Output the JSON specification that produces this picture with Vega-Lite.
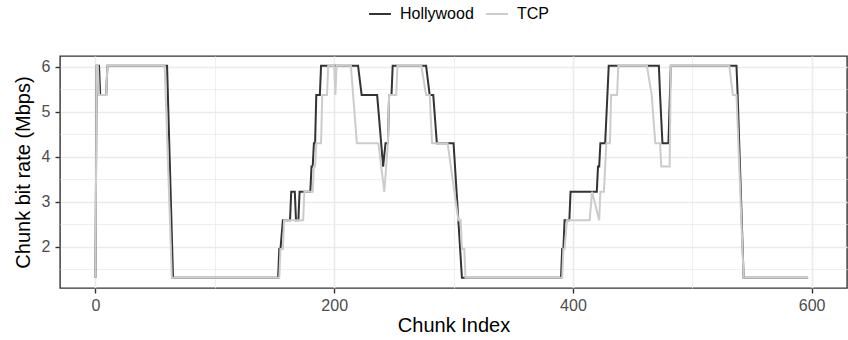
{
  "$schema": "https://vega.github.io/schema/vega-lite/v6.json",
  "width": 787,
  "height": 232,
  "autosize": {"type": "none"},
  "padding": {"left": 60, "top": 56, "right": 1, "bottom": 52},
  "background": "white",
  "config": {
    "font": "Liberation Sans",
    "view": {"stroke": "#333333", "strokeWidth": 1.4},
    "axis": {
      "domain": false,
      "gridColor": "#EBEBEB",
      "tickColor": "#333333",
      "tickWidth": 1.4,
      "tickSize": 5,
      "labelColor": "#4D4D4D",
      "labelFontSize": 16,
      "labelFont": "Liberation Sans",
      "titleFont": "Liberation Sans",
      "titleFontSize": 20,
      "titleFontWeight": "normal",
      "titleColor": "#000000"
    }
  },
  "data": {
    "values": [
      {"s": "Hollywood", "i": 0, "v": 1.31},
      {"s": "Hollywood", "i": 1, "v": 6.02},
      {"s": "Hollywood", "i": 3, "v": 6.02},
      {"s": "Hollywood", "i": 4, "v": 5.37},
      {"s": "Hollywood", "i": 9, "v": 5.37},
      {"s": "Hollywood", "i": 10, "v": 6.02},
      {"s": "Hollywood", "i": 60, "v": 6.02},
      {"s": "Hollywood", "i": 65, "v": 1.31},
      {"s": "Hollywood", "i": 153, "v": 1.31},
      {"s": "Hollywood", "i": 154, "v": 1.95},
      {"s": "Hollywood", "i": 155, "v": 1.95},
      {"s": "Hollywood", "i": 157, "v": 2.59},
      {"s": "Hollywood", "i": 163, "v": 2.59},
      {"s": "Hollywood", "i": 164, "v": 3.22},
      {"s": "Hollywood", "i": 167, "v": 3.22},
      {"s": "Hollywood", "i": 168, "v": 2.59},
      {"s": "Hollywood", "i": 170, "v": 2.59},
      {"s": "Hollywood", "i": 171, "v": 3.22},
      {"s": "Hollywood", "i": 180, "v": 3.22},
      {"s": "Hollywood", "i": 181, "v": 3.78},
      {"s": "Hollywood", "i": 182, "v": 3.78},
      {"s": "Hollywood", "i": 183, "v": 4.30},
      {"s": "Hollywood", "i": 184, "v": 4.30},
      {"s": "Hollywood", "i": 185, "v": 5.37},
      {"s": "Hollywood", "i": 188, "v": 5.37},
      {"s": "Hollywood", "i": 189, "v": 6.02},
      {"s": "Hollywood", "i": 220, "v": 6.02},
      {"s": "Hollywood", "i": 223, "v": 5.37},
      {"s": "Hollywood", "i": 236, "v": 5.37},
      {"s": "Hollywood", "i": 241, "v": 3.78},
      {"s": "Hollywood", "i": 243, "v": 4.30},
      {"s": "Hollywood", "i": 245, "v": 4.30},
      {"s": "Hollywood", "i": 246, "v": 5.37},
      {"s": "Hollywood", "i": 248, "v": 5.37},
      {"s": "Hollywood", "i": 249, "v": 6.02},
      {"s": "Hollywood", "i": 277, "v": 6.02},
      {"s": "Hollywood", "i": 280, "v": 5.37},
      {"s": "Hollywood", "i": 283, "v": 5.37},
      {"s": "Hollywood", "i": 286, "v": 4.30},
      {"s": "Hollywood", "i": 300, "v": 4.30},
      {"s": "Hollywood", "i": 307, "v": 1.31},
      {"s": "Hollywood", "i": 390, "v": 1.31},
      {"s": "Hollywood", "i": 391, "v": 1.95},
      {"s": "Hollywood", "i": 392, "v": 1.95},
      {"s": "Hollywood", "i": 393, "v": 2.59},
      {"s": "Hollywood", "i": 397, "v": 2.59},
      {"s": "Hollywood", "i": 398, "v": 3.22},
      {"s": "Hollywood", "i": 420, "v": 3.22},
      {"s": "Hollywood", "i": 421, "v": 3.78},
      {"s": "Hollywood", "i": 422, "v": 3.78},
      {"s": "Hollywood", "i": 423, "v": 4.30},
      {"s": "Hollywood", "i": 427, "v": 4.30},
      {"s": "Hollywood", "i": 430, "v": 6.02},
      {"s": "Hollywood", "i": 472, "v": 6.02},
      {"s": "Hollywood", "i": 473, "v": 5.37},
      {"s": "Hollywood", "i": 475, "v": 4.30},
      {"s": "Hollywood", "i": 480, "v": 4.30},
      {"s": "Hollywood", "i": 482, "v": 6.02},
      {"s": "Hollywood", "i": 537, "v": 6.02},
      {"s": "Hollywood", "i": 538, "v": 5.37},
      {"s": "Hollywood", "i": 543, "v": 1.31},
      {"s": "Hollywood", "i": 597, "v": 1.31},
      {"s": "TCP", "i": 0, "v": 1.31},
      {"s": "TCP", "i": 1, "v": 6.02},
      {"s": "TCP", "i": 2, "v": 6.02},
      {"s": "TCP", "i": 3, "v": 5.37},
      {"s": "TCP", "i": 9, "v": 5.37},
      {"s": "TCP", "i": 10, "v": 6.02},
      {"s": "TCP", "i": 58, "v": 6.02},
      {"s": "TCP", "i": 64, "v": 1.31},
      {"s": "TCP", "i": 154, "v": 1.31},
      {"s": "TCP", "i": 155, "v": 1.95},
      {"s": "TCP", "i": 157, "v": 1.95},
      {"s": "TCP", "i": 158, "v": 2.59},
      {"s": "TCP", "i": 174, "v": 2.59},
      {"s": "TCP", "i": 175, "v": 3.22},
      {"s": "TCP", "i": 182, "v": 3.22},
      {"s": "TCP", "i": 183, "v": 3.78},
      {"s": "TCP", "i": 184, "v": 3.78},
      {"s": "TCP", "i": 185, "v": 4.30},
      {"s": "TCP", "i": 189, "v": 4.30},
      {"s": "TCP", "i": 190, "v": 5.37},
      {"s": "TCP", "i": 194, "v": 5.37},
      {"s": "TCP", "i": 195, "v": 6.02},
      {"s": "TCP", "i": 200, "v": 6.02},
      {"s": "TCP", "i": 201, "v": 5.37},
      {"s": "TCP", "i": 202, "v": 6.02},
      {"s": "TCP", "i": 214, "v": 6.02},
      {"s": "TCP", "i": 219, "v": 4.30},
      {"s": "TCP", "i": 237, "v": 4.30},
      {"s": "TCP", "i": 242, "v": 3.22},
      {"s": "TCP", "i": 245, "v": 4.30},
      {"s": "TCP", "i": 246, "v": 5.37},
      {"s": "TCP", "i": 252, "v": 5.37},
      {"s": "TCP", "i": 253, "v": 6.02},
      {"s": "TCP", "i": 273, "v": 6.02},
      {"s": "TCP", "i": 277, "v": 5.37},
      {"s": "TCP", "i": 280, "v": 5.37},
      {"s": "TCP", "i": 282, "v": 4.30},
      {"s": "TCP", "i": 295, "v": 4.30},
      {"s": "TCP", "i": 304, "v": 2.59},
      {"s": "TCP", "i": 306, "v": 2.59},
      {"s": "TCP", "i": 307, "v": 1.95},
      {"s": "TCP", "i": 309, "v": 1.95},
      {"s": "TCP", "i": 310, "v": 1.31},
      {"s": "TCP", "i": 391, "v": 1.31},
      {"s": "TCP", "i": 392, "v": 1.95},
      {"s": "TCP", "i": 393, "v": 1.95},
      {"s": "TCP", "i": 395, "v": 2.59},
      {"s": "TCP", "i": 414, "v": 2.59},
      {"s": "TCP", "i": 416, "v": 3.22},
      {"s": "TCP", "i": 422, "v": 2.59},
      {"s": "TCP", "i": 423, "v": 3.22},
      {"s": "TCP", "i": 426, "v": 3.22},
      {"s": "TCP", "i": 427, "v": 3.78},
      {"s": "TCP", "i": 428, "v": 4.30},
      {"s": "TCP", "i": 431, "v": 4.30},
      {"s": "TCP", "i": 432, "v": 5.37},
      {"s": "TCP", "i": 437, "v": 5.37},
      {"s": "TCP", "i": 438, "v": 6.02},
      {"s": "TCP", "i": 462, "v": 6.02},
      {"s": "TCP", "i": 466, "v": 5.37},
      {"s": "TCP", "i": 469, "v": 4.30},
      {"s": "TCP", "i": 473, "v": 4.30},
      {"s": "TCP", "i": 474, "v": 3.78},
      {"s": "TCP", "i": 481, "v": 3.78},
      {"s": "TCP", "i": 482, "v": 6.02},
      {"s": "TCP", "i": 531, "v": 6.02},
      {"s": "TCP", "i": 534, "v": 5.37},
      {"s": "TCP", "i": 537, "v": 5.37},
      {"s": "TCP", "i": 543, "v": 1.31},
      {"s": "TCP", "i": 597, "v": 1.31}
    ]
  },
  "mark": {"type": "line", "strokeWidth": 2, "clip": true},
  "encoding": {
    "x": {
      "field": "i",
      "type": "quantitative",
      "scale": {"domain": [-29.7, 629.6], "nice": false, "zero": false},
      "axis": {
        "title": "Chunk Index",
        "values": [0, 100, 200, 300, 400, 500, 600],
        "format": "d",
        "labelExpr": "datum.value % 200 === 0 ? datum.label : ''",
        "tickOpacity": {"condition": {"test": "datum.value % 200 === 0", "value": 1}, "value": 0},
        "gridWidth": {"condition": {"test": "datum.value % 200 === 0", "value": 1.6}, "value": 0.8},
        "labelPadding": 4,
        "titlePadding": 2
      }
    },
    "y": {
      "field": "v",
      "type": "quantitative",
      "scale": {"domain": [1.082, 6.238], "nice": false, "zero": false},
      "axis": {
        "title": "Chunk bit rate (Mbps)",
        "values": [1.5, 2, 2.5, 3, 3.5, 4, 4.5, 5, 5.5, 6],
        "labelExpr": "datum.value % 1 === 0 ? format(datum.value, 'd') : ''",
        "tickOpacity": {"condition": {"test": "datum.value % 1 === 0", "value": 1}, "value": 0},
        "gridWidth": {"condition": {"test": "datum.value % 1 === 0", "value": 1.6}, "value": 0.8},
        "labelPadding": 5,
        "titlePadding": 8
      }
    },
    "color": {
      "field": "s",
      "type": "nominal",
      "scale": {"domain": ["Hollywood", "TCP"], "range": ["#333333", "#CCCCCC"]},
      "legend": {
        "title": null,
        "orient": "none",
        "direction": "horizontal",
        "legendX": 308,
        "legendY": -54,
        "symbolType": "stroke",
        "symbolSize": 480,
        "symbolStrokeWidth": 2,
        "labelFontSize": 16,
        "labelColor": "#000000",
        "labelFont": "Liberation Sans",
        "labelOffset": 8,
        "columnPadding": 8
      }
    }
  }
}
